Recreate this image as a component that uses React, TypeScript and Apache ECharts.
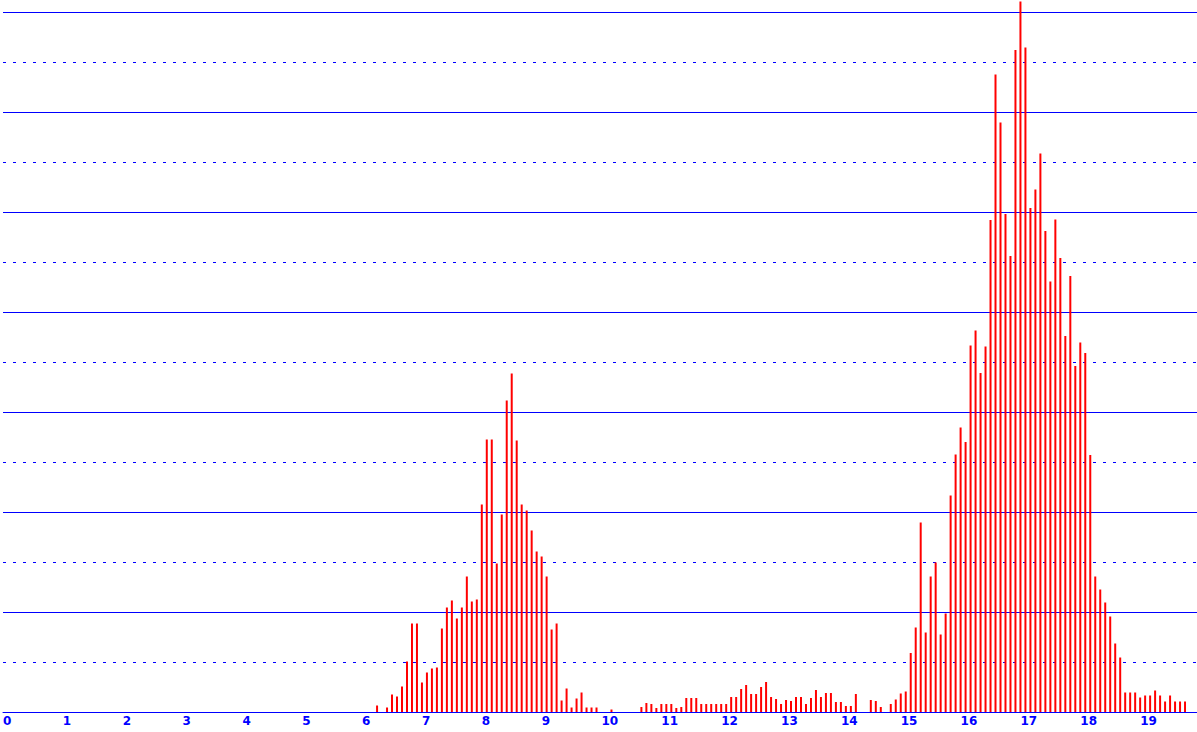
import { useEffect, useRef } from 'react';
import * as echarts from 'echarts';

// bins are 1/12 of a unit wide; each segment starts at a bin index
const BIN = 1 / 12;

const leftStart = 75;
const leftPeak = [
  0.13, 0, 0.09, 0.35, 0.31, 0.51, 1.01, 1.77, 1.77, 0.59, 0.79, 0.87, 0.89,
  1.67, 2.09, 2.23, 1.87, 2.09, 2.71, 2.21, 2.25, 4.15, 5.45, 5.45, 2.97, 3.95,
  6.23, 6.77, 5.43, 4.15, 4.03, 3.63, 3.21, 3.11, 2.71, 1.65, 1.77, 0.23, 0.47,
  0.09, 0.27, 0.39, 0.09, 0.09, 0.09, 0, 0, 0.05,
];

const middleStart = 128;
const middle = [
  0.1, 0.18, 0.16, 0.08, 0.16, 0.16, 0.16, 0.08, 0.1, 0.28, 0.28, 0.28, 0.16,
  0.16, 0.16, 0.16, 0.16, 0.16, 0.3, 0.3, 0.46, 0.54, 0.36, 0.36, 0.5, 0.6,
  0.3, 0.26, 0.16, 0.24, 0.22, 0.3, 0.3, 0.16, 0.28, 0.44, 0.3, 0.38, 0.38,
  0.2, 0.2, 0.12, 0.12, 0.36, 0, 0, 0.24, 0.22, 0.1, 0,
];

const rightStart = 178;
const rightPeak = [
  0.16, 0.25, 0.37, 0.41, 1.18, 1.69, 3.79, 1.59, 2.71, 2.99, 1.55, 1.97, 4.33,
  5.15, 5.69, 5.4, 7.33, 7.63, 6.78, 7.31, 9.84, 12.75, 11.79, 9.96, 9.12,
  13.24, 14.21, 13.29, 10.08, 10.45, 11.17, 9.62, 8.61, 9.85, 9.08, 7.52, 8.72,
  6.92, 7.39, 7.18, 5.14, 2.71, 2.45, 2.19, 1.91, 1.37, 1.09, 0.39, 0.39, 0.39,
  0.29, 0.33, 0.33, 0.43, 0.33, 0.21, 0.33, 0.21, 0.21, 0.21,
];

const xMax = 19.95;
const yMax = 14.24;

const toPoints = (start: number, values: number[]) =>
  values
    .map((v, i) => [(start + i) * BIN, v])
    .filter((p) => p[1] > 0);

export default function App() {
  const chartRef = useRef<HTMLDivElement>(null);

  useEffect(() => {
    if (!chartRef.current) return;
    const chart = echarts.init(chartRef.current, undefined, { renderer: 'svg' });

    const data = [
      ...toPoints(leftStart, leftPeak),
      ...toPoints(middleStart, middle),
      ...toPoints(rightStart, rightPeak),
    ];

    const gridLine = (type: any) => ({
      show: true,
      showMaxLine: false,
      lineStyle: { color: '#0000ff', width: 1, type },
    });

    chart.setOption({
      animation: false,
      backgroundColor: '#ffffff',
      grid: { left: 0, right: 0, top: 0, bottom: 20 },
      xAxis: {
        type: 'value',
        min: 0,
        max: xMax,
        interval: 1,
        axisLine: { show: true, lineStyle: { color: '#0000ff', width: 1 } },
        axisTick: { show: false },
        splitLine: { show: false },
        axisLabel: {
          color: '#0000ff',
          fontFamily: 'DejaVu Sans',
          fontWeight: 'bold',
          fontSize: 12,
          align: 'left',
          margin: 3,
          showMaxLabel: false,
        },
      },
      yAxis: [
        {
          type: 'value',
          min: 0,
          max: yMax,
          interval: 1,
          axisLine: { show: false },
          axisTick: { show: false },
          axisLabel: { show: false },
          splitLine: gridLine([3, 7]),
        },
        {
          type: 'value',
          min: 0,
          max: yMax,
          interval: 2,
          axisLine: { show: false },
          axisTick: { show: false },
          axisLabel: { show: false },
          splitLine: gridLine('solid'),
        },
      ],
      series: [
        {
          type: 'bar',
          yAxisIndex: 0,
          barWidth: 2,
          itemStyle: { color: '#ff0000' },
          data,
        },
      ],
    });

    return () => {
      chart.dispose();
    };
  }, []);

  return (
    <div
      ref={chartRef}
      style={{ position: 'fixed', left: 0, top: 0, width: 1197, height: 732, background: '#fff' }}
    />
  );
}
